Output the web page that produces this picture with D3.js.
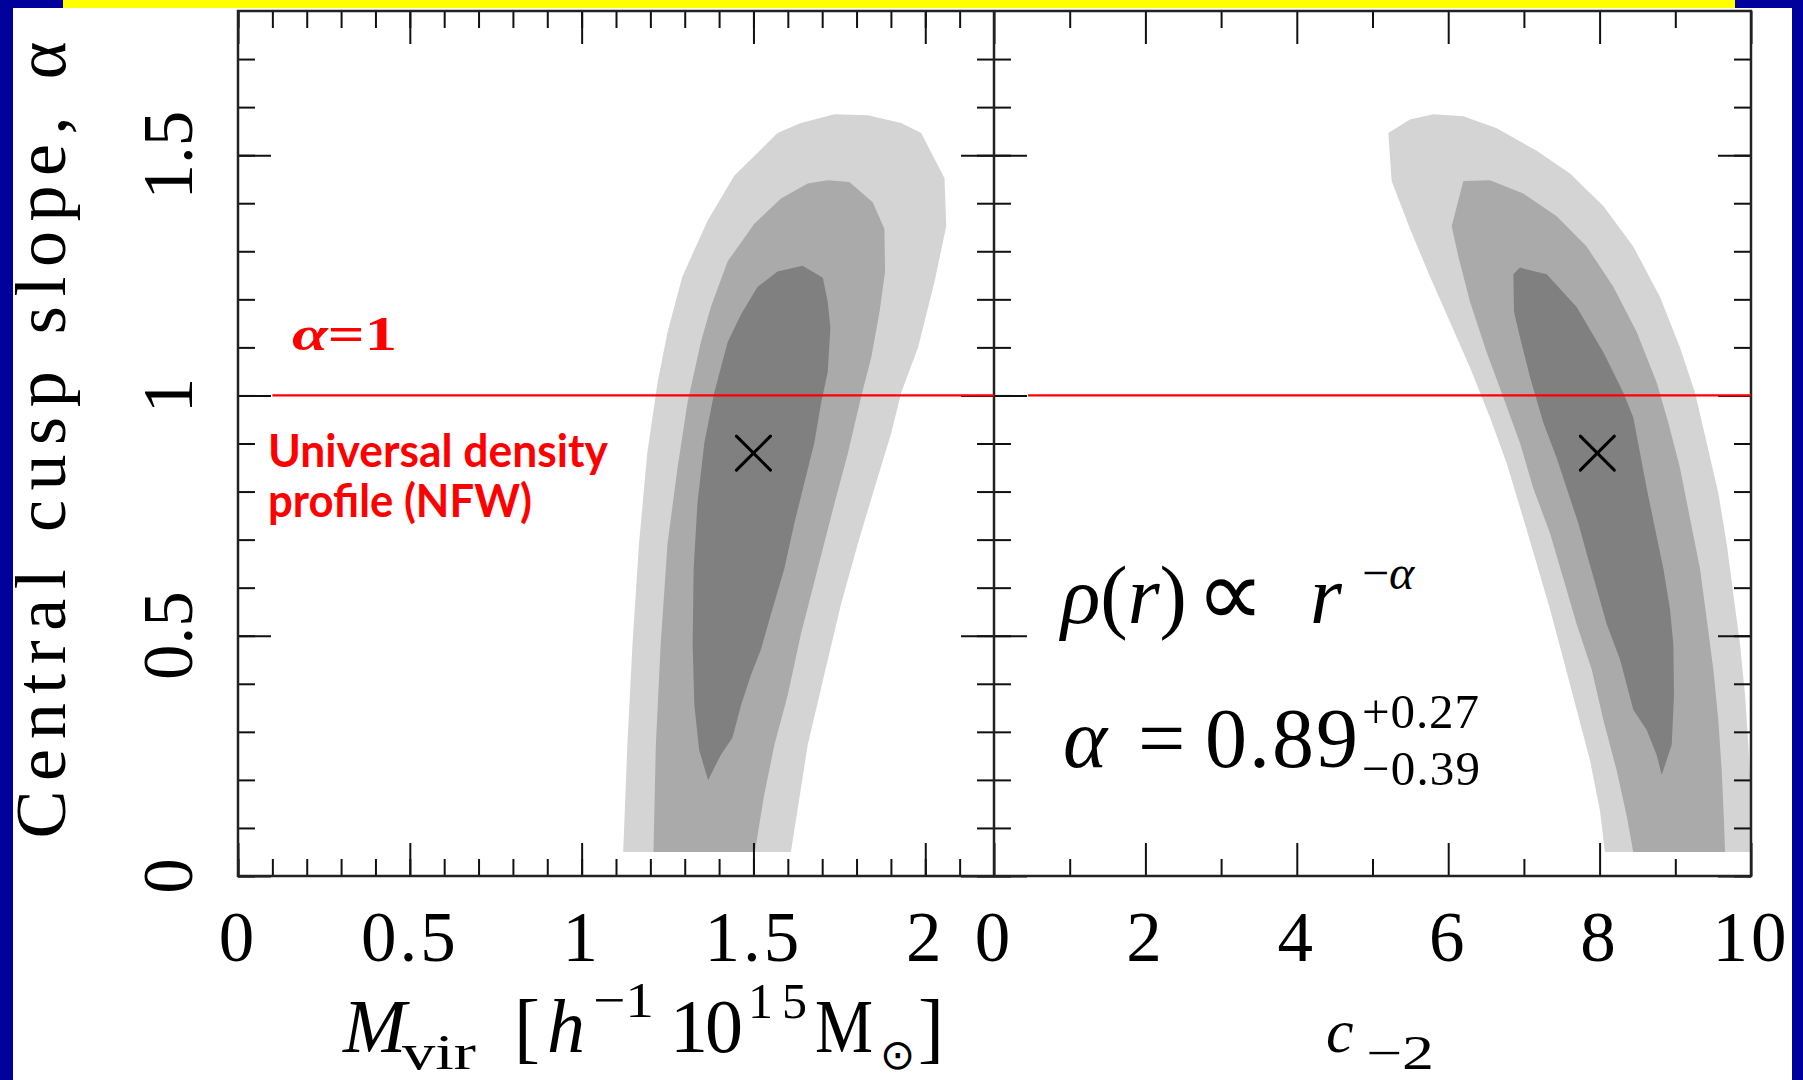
<!DOCTYPE html>
<html><head><meta charset="utf-8">
<script src="https://cdn.jsdelivr.net/npm/d3@7"></script>
<style>html,body{margin:0;padding:0;background:#00009c;overflow:hidden}</style>
</head><body>
<svg id="chart" width="1803" height="1080"></svg>
<script>
// ---------------- data ----------------
const alphaMajorTicks = [0, 0.5, 1, 1.5];
const alphaTickLabels = ["0", "0.5", "1", "1.5"];
const alphaMinorTicks = [0,0.1,0.2,0.3,0.4,0.5,0.6,0.7,0.8,0.9,1,1.1,1.2,1.3,1.4,1.5,1.6,1.7];
const massMajorTicks = [0, 0.5, 1, 1.5, 2];
const massTickLabels = ["0", "0.5", "1", "1.5", "2"];
const massMinorTicks = [0,0.1,0.2,0.3,0.4,0.5,0.6,0.7,0.8,0.9,1,1.1,1.2,1.3,1.4,1.5,1.6,1.7,1.8,1.9,2,2.1];
const concMajorTicks = [0, 2, 4, 6, 8, 10];
const concTickLabels = ["0", "2", "4", "6", "8", "10"];
const concMinorTicks = [1, 3, 5, 7, 9];

// contour levels (M_vir, alpha) — outer, middle, inner
const massOuter = [[1.121,0.05],[1.133,0.273],[1.148,0.482],[1.167,0.692],[1.191,0.880],[1.221,1.027],[1.250,1.132],[1.293,1.247],[1.366,1.363],[1.444,1.457],[1.570,1.546],[1.638,1.567],[1.736,1.585],[1.833,1.583],[1.930,1.567],[1.988,1.546],[2.056,1.452],[2.061,1.352],[2.027,1.237],[1.979,1.100],[1.930,1.006],[1.901,0.922],[1.852,0.807],[1.804,0.692],[1.755,0.566],[1.706,0.419],[1.658,0.273],[1.609,0.05]];
const massMiddle = [[1.209,0.05],[1.216,0.273],[1.230,0.482],[1.250,0.692],[1.279,0.849],[1.308,0.985],[1.347,1.111],[1.376,1.184],[1.425,1.279],[1.502,1.357],[1.580,1.410],[1.658,1.441],[1.716,1.448],[1.779,1.444],[1.847,1.402],[1.881,1.347],[1.883,1.258],[1.867,1.174],[1.843,1.080],[1.813,0.996],[1.775,0.880],[1.736,0.776],[1.687,0.640],[1.638,0.503],[1.600,0.377],[1.561,0.273],[1.531,0.168],[1.504,0.05]];
const massInner = [[1.368,0.199],[1.342,0.262],[1.328,0.356],[1.323,0.482],[1.326,0.640],[1.337,0.776],[1.357,0.901],[1.386,1.006],[1.425,1.111],[1.464,1.169],[1.512,1.226],[1.570,1.258],[1.643,1.270],[1.702,1.245],[1.716,1.195],[1.724,1.142],[1.716,1.048],[1.697,0.985],[1.677,0.901],[1.648,0.818],[1.619,0.734],[1.590,0.640],[1.551,0.545],[1.522,0.472],[1.493,0.419],[1.464,0.356],[1.439,0.288],[1.405,0.252]];

// contour levels (c_-2, alpha)
const concOuter = [[5.209,1.546],[5.495,1.574],[5.803,1.585],[6.200,1.581],[6.641,1.556],[7.169,1.509],[7.609,1.462],[8.049,1.394],[8.445,1.310],[8.798,1.205],[9.062,1.100],[9.260,1.006],[9.415,0.901],[9.568,0.797],[9.679,0.692],[9.766,0.587],[9.855,0.482],[9.921,0.377],[9.965,0.273],[10.0,0.168],[10.0,0.05],[8.071,0.05],[8.005,0.136],[7.873,0.241],[7.697,0.346],[7.521,0.451],[7.345,0.555],[7.169,0.650],[6.992,0.744],[6.773,0.859],[6.552,0.954],[6.288,1.058],[6.024,1.153],[5.760,1.247],[5.495,1.347],[5.253,1.446]];
const concMiddle = [[6.046,1.352],[6.200,1.446],[6.552,1.448],[6.992,1.420],[7.433,1.373],[7.829,1.310],[8.181,1.226],[8.490,1.132],[8.754,1.027],[8.908,0.943],[9.062,0.849],[9.194,0.744],[9.326,0.640],[9.415,0.535],[9.502,0.430],[9.568,0.325],[9.613,0.220],[9.643,0.115],[9.657,0.05],[8.445,0.05],[8.357,0.126],[8.225,0.220],[8.049,0.325],[7.895,0.430],[7.697,0.524],[7.521,0.619],[7.345,0.713],[7.124,0.807],[6.948,0.901],[6.728,0.996],[6.508,1.090],[6.288,1.195],[6.134,1.289]];
const concInner = [[6.861,1.252],[6.948,1.266],[7.301,1.252],[7.697,1.184],[8.049,1.090],[8.313,1.006],[8.445,0.954],[8.534,0.880],[8.622,0.807],[8.732,0.723],[8.842,0.640],[8.930,0.555],[8.974,0.482],[8.983,0.377],[8.953,0.273],[8.820,0.210],[8.754,0.252],[8.622,0.304],[8.445,0.346],[8.269,0.451],[8.094,0.524],[7.962,0.598],[7.829,0.671],[7.719,0.734],[7.565,0.807],[7.433,0.870],[7.257,0.943],[7.081,1.038],[6.948,1.121],[6.869,1.174]];

const bestMass = [1.50];
const bestConc = [7.97];
const bestAlpha = [0.88];
const nfwAlpha = [1];
const nfwMassRange = [0.1, 2.2];
const nfwConcRange = [0.45, 10];

const levelColors = ["#d4d4d4", "#aaaaaa", "#808080"];

// ---------------- drawing ----------------
const svg = d3.select("#chart");
svg.append("rect").attr("x",0).attr("y",0).attr("width",1803).attr("height",1080).attr("fill","#00009c");
svg.append("rect").attr("x",13).attr("y",8).attr("width",1779).attr("height",1072).attr("fill","#ffffff");
svg.append("rect").attr("x",63).attr("y",0).attr("width",1672).attr("height",8).attr("fill","#ffff00");

const xM = d3.scaleLinear().domain([0, 2.2]).range([238, 994]);
const xC = d3.scaleLinear().domain([0, 10]).range([994, 1751]);
const y = d3.scaleLinear().domain([0, 1.8]).range([876, 11]);

const defs = svg.append("defs");
defs.append("clipPath").attr("id","clipL").append("rect")
  .attr("x",xM(0)).attr("y",y(1.8)).attr("width",xM(2.2)-xM(0)).attr("height",y(0)-y(1.8));
defs.append("clipPath").attr("id","clipR").append("rect")
  .attr("x",xC(0)).attr("y",y(1.8)).attr("width",xC(10)-xC(0)).attr("height",y(0)-y(1.8));

function drawContours(sx, sets, clip){
  const g = svg.append("g").attr("clip-path", `url(#${clip})`);
  const line = d3.line().x(d=>sx(d[0])).y(d=>y(d[1])).curve(d3.curveLinearClosed);
  sets.forEach((pts,i)=>{
    g.append("path").attr("d", line(pts)).attr("fill", levelColors[i]).attr("stroke","none");
  });
}
drawContours(xM, [massOuter, massMiddle, massInner], "clipL");
drawContours(xC, [concOuter, concMiddle, concInner], "clipR");

function ticks(axisFn, scale, values, size, tx, ty){
  const g = svg.append("g").attr("transform",`translate(${tx},${ty})`)
    .call(axisFn(scale).tickValues(values).tickSize(size).tickFormat(""));
  g.select(".domain").remove();
  g.selectAll(".tick line").attr("stroke","#111").attr("stroke-width",2);
}
const MIN=17, MAJ=33;
ticks(d3.axisBottom, xM, massMinorTicks, -MIN, 0, 876);
ticks(d3.axisBottom, xM, massMajorTicks, -MAJ, 0, 876);
ticks(d3.axisTop, xM, massMinorTicks, -MIN, 0, 11);
ticks(d3.axisTop, xM, massMajorTicks, -MAJ, 0, 11);
ticks(d3.axisLeft, y, alphaMinorTicks, -MIN, 238, 0);
ticks(d3.axisLeft, y, alphaMajorTicks, -MAJ, 238, 0);
ticks(d3.axisRight, y, alphaMinorTicks, -MIN, 994, 0);
ticks(d3.axisRight, y, alphaMajorTicks, -MAJ, 994, 0);
ticks(d3.axisBottom, xC, concMinorTicks, -MIN, 0, 876);
ticks(d3.axisBottom, xC, concMajorTicks, -MAJ, 0, 876);
ticks(d3.axisTop, xC, concMinorTicks, -MIN, 0, 11);
ticks(d3.axisTop, xC, concMajorTicks, -MAJ, 0, 11);
ticks(d3.axisLeft, y, alphaMinorTicks, -MIN, 994, 0);
ticks(d3.axisLeft, y, alphaMajorTicks, -MAJ, 994, 0);
ticks(d3.axisRight, y, alphaMinorTicks, -MIN, 1751, 0);
ticks(d3.axisRight, y, alphaMajorTicks, -MAJ, 1751, 0);

svg.append("rect").attr("x",xM(0)).attr("y",y(1.8)).attr("width",xC(10)-xM(0)).attr("height",y(0)-y(1.8))
  .attr("fill","none").attr("stroke","#222").attr("stroke-width",2.5);
svg.append("line").attr("x1",xM(2.2)).attr("x2",xM(2.2)).attr("y1",y(1.8)).attr("y2",y(0))
  .attr("stroke","#222").attr("stroke-width",2.5);

svg.append("line").attr("x1",xM(nfwMassRange[0])).attr("x2",xM(nfwMassRange[1]))
  .attr("y1",y(nfwAlpha[0])).attr("y2",y(nfwAlpha[0])).attr("stroke","#ff0000").attr("stroke-width",2.2);
svg.append("line").attr("x1",xC(nfwConcRange[0])).attr("x2",xC(nfwConcRange[1]))
  .attr("y1",y(nfwAlpha[0])).attr("y2",y(nfwAlpha[0])).attr("stroke","#ff0000").attr("stroke-width",2.2);

function cross(cx, cy){
  const h = 17;
  const g = svg.append("g").attr("stroke","#000").attr("stroke-width",3).attr("stroke-linecap","round");
  g.append("line").attr("x1",cx-h).attr("y1",cy-h).attr("x2",cx+h).attr("y2",cy+h);
  g.append("line").attr("x1",cx-h).attr("y1",cy+h).attr("x2",cx+h).attr("y2",cy-h);
}
cross(xM(bestMass[0]), y(bestAlpha[0]));
cross(xC(bestConc[0]), y(bestAlpha[0]));

const tickFont = "'Liberation Serif','Times New Roman',serif";
function xLabels(scale, vals, labs){
  svg.append("g").selectAll("text").data(vals).join("text")
    .attr("x", d=>scale(d)).attr("y", 961)
    .attr("text-anchor","middle").attr("font-family",tickFont).attr("font-size",71)
    .attr("letter-spacing",3)
    .attr("fill","#000").text((d,i)=>labs[i]);
}
xLabels(xM, massMajorTicks, massTickLabels);
xLabels(xC, concMajorTicks, concTickLabels);
svg.append("g").selectAll("text").data(alphaMajorTicks).join("text")
  .attr("transform", d=>`translate(192,${y(d)}) rotate(-90)`)
  .attr("text-anchor","middle").attr("font-family",tickFont).attr("font-size",71)
  .attr("fill","#000").text((d,i)=>alphaTickLabels[i]);

svg.append("text").attr("transform","translate(65,440) rotate(-90)")
  .attr("text-anchor","middle").attr("font-family",tickFont).attr("font-size",72)
  .attr("textLength",797).attr("lengthAdjust","spacing")
  .text("Central cusp slope, α");

const tl = svg.append("g").attr("font-family",tickFont).attr("fill","#000");
tl.append("text").attr("x",343).attr("y",1052).attr("font-size",76).attr("font-style","italic").text("M");
tl.append("text").attr("x",402).attr("y",1069).attr("font-size",50).attr("textLength",74).attr("lengthAdjust","spacingAndGlyphs").text("vir");
tl.append("text").attr("x",514).attr("y",1054).attr("font-size",78).text("[");
tl.append("text").attr("x",547).attr("y",1052).attr("font-size",76).attr("font-style","italic").text("h");
tl.append("text").attr("x",593).attr("y",1017).attr("font-size",50).attr("textLength",61).attr("lengthAdjust","spacingAndGlyphs").text("−1");
tl.append("text").attr("x",670).attr("y",1052).attr("font-size",76).attr("textLength",73).text("10");
tl.append("text").attr("x",748).attr("y",1018).attr("font-size",50).attr("textLength",59).text("15");
tl.append("text").attr("x",815).attr("y",1052).attr("font-size",76).attr("textLength",58).attr("lengthAdjust","spacingAndGlyphs").text("M");
tl.append("text").attr("x",880).attr("y",1069).attr("font-size",42).attr("font-family","'DejaVu Sans',sans-serif").text("⊙");
tl.append("text").attr("x",918).attr("y",1054).attr("font-size",78).text("]");

tl.append("text").attr("x",1326).attr("y",1052).attr("font-size",62).attr("font-style","italic").text("c");
tl.append("text").attr("x",1366).attr("y",1069).attr("font-size",48).attr("textLength",68).attr("lengthAdjust","spacingAndGlyphs").text("−2");

svg.append("text").attr("x",292).attr("y",350).attr("font-family",tickFont).attr("font-size",48)
  .attr("font-weight","bold").attr("fill","#ff0000").attr("textLength",105).attr("lengthAdjust","spacingAndGlyphs")
  .html('<tspan font-style="italic">α</tspan>=1');
const redSans = "'Lato','Open Sans','Noto Sans',sans-serif";
svg.append("text").attr("x",268).attr("y",467).attr("font-family",redSans).attr("font-size",46)
  .attr("font-weight","bold").attr("fill","#ff0000").attr("textLength",340).attr("lengthAdjust","spacingAndGlyphs")
  .text("Universal density");
svg.append("text").attr("x",268).attr("y",517).attr("font-family",redSans).attr("font-size",46)
  .attr("font-weight","bold").attr("fill","#ff0000").attr("textLength",264).attr("lengthAdjust","spacingAndGlyphs")
  .text("profile (NFW)");

const eqFont = "'Liberation Serif','Times New Roman',serif";
const eq = svg.append("g").attr("font-family",eqFont).attr("fill","#000");
eq.append("text").attr("x",1061).attr("y",623).attr("font-size",82)
  .html('<tspan font-style="italic">ρ</tspan>(<tspan font-style="italic">r</tspan>)');
eq.append("text").attr("x",1196).attr("y",626).attr("font-size",96).text("∝");
eq.append("text").attr("x",1310).attr("y",623).attr("font-size",82).attr("font-style","italic").text("r");
eq.append("text").attr("x",1362).attr("y",589).attr("font-size",48)
  .html('−<tspan font-style="italic">α</tspan>');
eq.append("text").attr("x",1063).attr("y",767).attr("font-size",84).attr("font-style","italic").text("α");
eq.append("text").attr("x",1138).attr("y",767).attr("font-size",84).text("=");
eq.append("text").attr("x",1205).attr("y",767).attr("font-size",84).attr("textLength",153).attr("lengthAdjust","spacing").text("0.89");
eq.append("text").attr("x",1362).attr("y",728).attr("font-size",49).attr("textLength",117).attr("lengthAdjust","spacing").text("+0.27");
eq.append("text").attr("x",1362).attr("y",785).attr("font-size",49).attr("textLength",118).attr("lengthAdjust","spacing").text("−0.39");
</script>
</body></html>
